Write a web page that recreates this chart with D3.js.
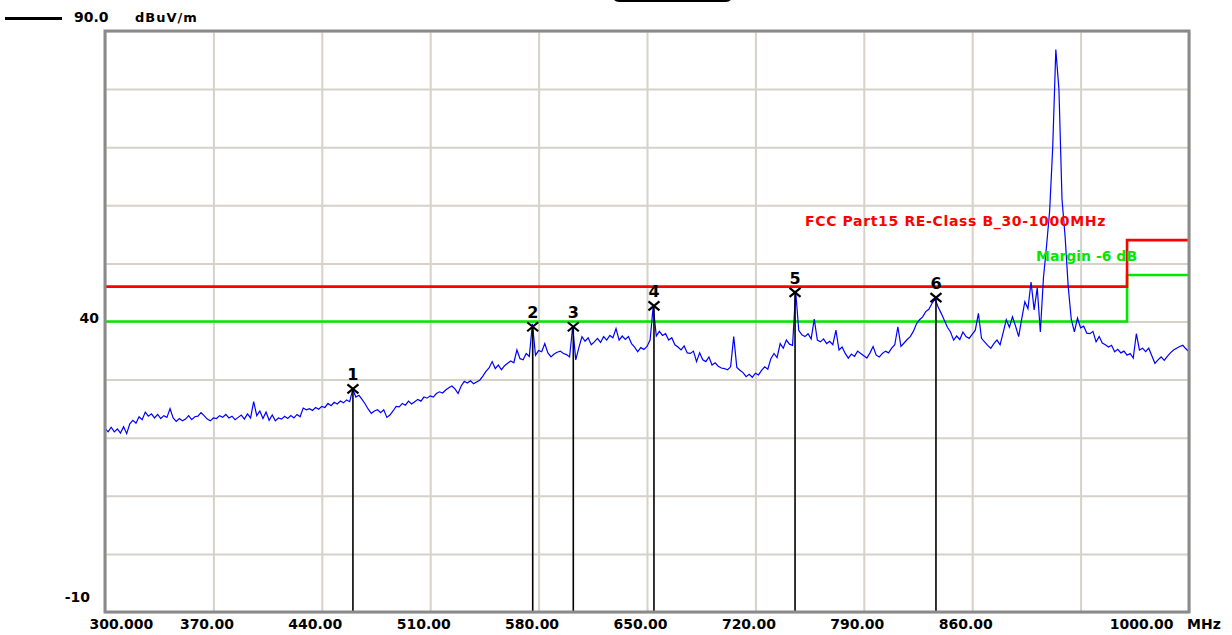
<!DOCTYPE html>
<html>
<head>
<meta charset="utf-8">
<script src="https://cdn.jsdelivr.net/npm/d3@7"></script>
<style>
  html, body { margin: 0; padding: 0; background: #fff; }
  svg { display: block; font-family: "DejaVu Sans", Verdana, sans-serif; font-weight: bold; }
  svg text { font-family: "DejaVu Sans", Verdana, sans-serif; font-weight: bold; }
</style>
</head>
<body>
<svg id="chart"></svg>
<script>
// sweep axis (MHz) and level axis (dBuV/m)
const xTicks = [300, 370, 440, 510, 580, 650, 720, 790, 860, 930, 1000];
const xTickLabels = ["300.000", "370.00", "440.00", "510.00", "580.00", "650.00", "720.00", "790.00", "860.00", "", "1000.00"];
const yGrid = [-10, 0, 10, 20, 30, 40, 50, 60, 70, 80, 90];
const yTickValues = [40, -10];
const yTickLabels = ["40", "-10"];
const topLevelLabel = "90.0";
const unitLabel = "dBuV/m";
const freqUnit = "MHz";

// limit lines
const limitFreqs = [300, 960, 960, 1000];
const limitLevels = [46, 46, 54, 54];
const marginLevels = [40, 40, 48, 48];
const limitName = "FCC Part15 RE-Class B_30-1000MHz";
const marginName = "Margin -6 dB";

// peak markers
const markerIds = ["1", "2", "3", "4", "5", "6"];
const markerFreqs = [460.1, 576.2, 602.4, 654.5, 745.6, 836.6];
const markerLevels = [28.4, 39.1, 39.1, 42.7, 45.0, 44.1];

// measured trace, one reading every 2 MHz from 300 MHz
const traceStart = 300;
const traceStep = 2;
const traceLevels = [
  21.6, 21.0, 21.8, 21.0, 21.5, 20.8, 21.9, 20.7, 22.4, 23.0,
  22.5, 23.6, 23.1, 24.4, 23.7, 24.1, 23.4, 24.0, 23.3, 23.8,
  23.5, 25.0, 23.4, 22.8, 23.3, 22.9, 23.2, 23.8, 23.1, 23.6,
  23.7, 24.3, 23.8, 23.2, 22.9, 23.4, 23.3, 23.8, 23.5, 24.0,
  23.4, 23.7, 23.1, 23.5, 23.9, 23.2, 24.1, 23.4, 26.2, 23.8,
  24.6, 23.3, 24.4, 23.0, 23.9, 22.9, 23.4, 23.2, 23.7, 23.3,
  23.8, 23.4, 24.0, 23.6, 25.1, 24.8, 25.0, 24.7, 25.2, 24.9,
  25.4, 25.2, 25.9, 25.5, 26.1, 25.8, 26.3, 26.0, 26.5, 26.2,
  28.3, 27.0, 27.3, 26.6, 25.8, 24.9, 24.2, 24.6, 24.8, 24.3,
  24.8, 23.5, 23.9, 24.6, 25.4, 25.3, 25.9, 25.6, 26.3, 25.8,
  26.2, 26.6, 26.3, 27.0, 26.8, 27.2, 27.0, 27.6, 27.9, 27.7,
  28.2, 28.6, 28.9, 28.4, 27.6, 28.9, 29.7, 29.4, 29.8, 29.3,
  29.6, 29.9, 30.6, 31.4, 32.0, 33.1, 31.9, 32.5, 31.7, 32.4,
  32.8, 33.2, 32.9, 35.1, 33.6, 33.4, 34.5, 34.0, 39.6, 34.2,
  35.0, 34.8, 36.2, 34.6, 33.9, 34.4, 34.7, 34.9, 34.5, 34.3,
  33.9, 39.1, 33.4, 35.5, 37.4, 36.6, 37.2, 36.0, 36.5, 37.1,
  36.4, 37.4, 36.8, 37.6, 37.2, 38.8, 36.8, 37.5, 36.9, 37.4,
  36.2, 35.6, 34.8, 35.5, 35.2, 35.7, 36.8, 42.6, 37.5, 38.3,
  37.6, 37.9, 36.8, 37.2, 36.0, 35.6, 35.1, 35.8, 34.6, 34.5,
  34.9, 33.1, 34.6, 33.4, 33.1, 33.9, 32.5, 32.9, 32.3, 32.0,
  31.9, 31.7, 32.2, 37.4, 32.1, 31.6, 31.2, 30.5, 30.9, 30.4,
  31.1, 30.8, 31.6, 32.2, 31.8, 33.6, 34.5, 33.8, 36.2, 35.4,
  36.8, 36.1, 35.9, 45.2, 38.5, 37.7, 37.4, 37.9, 37.0, 40.4,
  36.8, 36.5, 37.0, 36.2, 36.6, 36.0, 38.5, 35.1, 35.6, 34.5,
  33.7, 34.4, 34.0, 34.9, 34.5, 34.1, 33.7, 34.6, 35.7, 34.2,
  33.9, 34.5, 34.9, 34.6, 35.4, 36.0, 39.1, 35.7, 36.3, 36.9,
  37.4, 38.3, 39.6, 40.3, 40.8, 41.7, 42.1, 43.1, 43.9, 42.5,
  41.4, 40.2, 39.0, 38.2, 36.8, 37.5, 36.9, 38.2, 37.4, 37.1,
  37.8, 38.5, 41.4, 37.1, 36.5, 35.9, 35.4, 36.2, 36.8, 36.0,
  38.1, 40.3, 39.0, 40.8, 39.2, 37.4, 40.5, 43.4, 42.2, 46.8,
  42.0, 45.8, 38.2, 47.5, 53.0, 59.0, 70.0, 86.8, 80.0, 61.0,
  54.6, 46.0, 40.3, 38.2, 40.6, 38.9, 39.2, 38.0, 37.9, 38.3,
  36.5, 37.4, 36.3, 36.0, 35.6, 35.9, 34.8, 35.2, 34.6, 34.9,
  34.2, 34.5, 33.7, 37.9, 35.1, 35.4, 34.8, 35.4, 34.1, 32.8,
  33.4, 33.9, 33.3, 34.0, 34.6, 35.1, 35.4, 35.7, 35.9, 35.3,
  34.8
];

const W = 1232, H = 635;
const plot = { left: 105, right: 1189, top: 31, bottom: 612 };
const FONT = "DejaVu Sans";

const svg = d3.select("#chart").attr("width", W).attr("height", H);

const x = d3.scaleLinear().domain([300, 1000]).range([plot.left, plot.right]);
const y = d3.scaleLinear().domain([-10, 90]).range([plot.bottom, plot.top]);

// black tab at the top
svg.append("rect")
  .attr("x", 612).attr("y", -12).attr("width", 121).attr("height", 14)
  .attr("rx", 7).attr("fill", "#000");

// grid
svg.append("g")
  .attr("transform", "translate(0," + plot.bottom + ")")
  .call(d3.axisBottom(x).tickValues(xTicks).tickSize(-(plot.bottom - plot.top)).tickFormat(""))
  .call(g => g.select(".domain").remove())
  .call(g => g.selectAll("line").attr("stroke", "#d6d2ca").attr("stroke-width", 2));

svg.append("g")
  .attr("transform", "translate(" + plot.left + ",0)")
  .call(d3.axisLeft(y).tickValues(yGrid).tickSize(-(plot.right - plot.left)).tickFormat(""))
  .call(g => g.select(".domain").remove())
  .call(g => g.selectAll("line").attr("stroke", "#d6d2ca").attr("stroke-width", 2));

// limit and margin lines
const limitLine = d3.line().x((d, i) => x(limitFreqs[i])).y(d => y(d));
svg.append("path").datum(marginLevels)
  .attr("d", limitLine).attr("fill", "none")
  .attr("stroke", "#00e800").attr("stroke-width", 2.6);
svg.append("path").datum(limitLevels)
  .attr("d", limitLine).attr("fill", "none")
  .attr("stroke", "#ff0000").attr("stroke-width", 2.6);

// trace
const trace = traceLevels.map((v, i) => ({ f: traceStart + i * traceStep, v: v }));
svg.append("path").datum(trace)
  .attr("d", d3.line().x(d => x(d.f)).y(d => y(d.v)))
  .attr("fill", "none").attr("stroke", "#0000ff").attr("stroke-width", 1.2);

// markers
const markers = markerIds.map((id, i) => ({ id: id, f: markerFreqs[i], v: markerLevels[i] }));
const mk = svg.append("g").selectAll("g").data(markers).join("g")
  .attr("transform", d => "translate(" + x(d.f) + "," + y(d.v) + ")");
mk.append("line")
  .attr("x1", 0).attr("x2", 0).attr("y1", 0).attr("y2", d => plot.bottom - y(d.v))
  .attr("stroke", "#000").attr("stroke-width", 1.6);
mk.append("path")
  .attr("d", "M-5.5,-4.5L5.5,4.5M-5.5,4.5L5.5,-4.5")
  .attr("stroke", "#000").attr("stroke-width", 2.2).attr("fill", "none");
mk.append("text")
  .attr("text-anchor", "middle").attr("y", -8.5)
  .attr("font-size", 16).attr("fill", "#000")
  .text(d => d.id);

// frame
svg.append("rect")
  .attr("x", plot.left).attr("y", plot.top)
  .attr("width", plot.right - plot.left).attr("height", plot.bottom - plot.top)
  .attr("fill", "none").attr("stroke", "#8a8a8a").attr("stroke-width", 3);

// x axis labels
const last = xTicks.length - 1;
svg.append("g")
  .attr("transform", "translate(0," + plot.bottom + ")")
  .attr("font-family", FONT)
  .call(d3.axisBottom(x).tickValues(xTicks).tickSize(0).tickFormat((d, i) => xTickLabels[i]))
  .call(g => g.attr("font-family", FONT).attr("font-size", 14))
  .call(g => g.select(".domain").remove())
  .call(g => g.selectAll("text")
    .attr("y", 17).attr("dy", 0)
    .attr("font-size", 14).attr("font-family", FONT).attr("fill", "#000")
    .attr("text-anchor", (d, i) => i === 0 ? "start" : (i === last ? "end" : "middle"))
    .attr("x", (d, i) => i === 0 || i === last ? -16 : -7));

svg.append("text")
  .attr("x", plot.right - 2).attr("y", plot.bottom + 17)
  .attr("font-size", 14).attr("fill", "#000")
  .text(freqUnit);

// y axis labels
svg.append("g")
  .attr("transform", "translate(" + plot.left + ",0)")
  .call(d3.axisLeft(y).tickValues(yTickValues).tickSize(0).tickFormat((d, i) => yTickLabels[i]))
  .call(g => g.attr("font-family", FONT).attr("font-size", 14))
  .call(g => g.select(".domain").remove())
  .call(g => g.selectAll("text")
    .attr("dy", 0).attr("font-size", 14).attr("font-family", FONT).attr("fill", "#000")
    .attr("x", (d, i) => i === 0 ? -6 : -15)
    .attr("y", (d, i) => i === 0 ? 0.5 : -11));

// header
svg.append("line")
  .attr("x1", 5).attr("x2", 62).attr("y1", 18.5).attr("y2", 18.5)
  .attr("stroke", "#000").attr("stroke-width", 3);
svg.append("text").attr("x", 74).attr("y", 22)
  .attr("font-size", 14).attr("fill", "#000").text(topLevelLabel);
svg.append("text").attr("x", 135).attr("y", 22)
  .attr("font-size", 13).attr("letter-spacing", 1).attr("fill", "#000").text(unitLabel);

// legend texts
svg.append("text").attr("x", 805).attr("y", 226)
  .attr("font-size", 14).attr("letter-spacing", 0.65).attr("fill", "#ff0000").text(limitName);
svg.append("text").attr("x", 1036).attr("y", 261)
  .attr("font-size", 14).attr("fill", "#00e800").text(marginName);
</script>
</body>
</html>
